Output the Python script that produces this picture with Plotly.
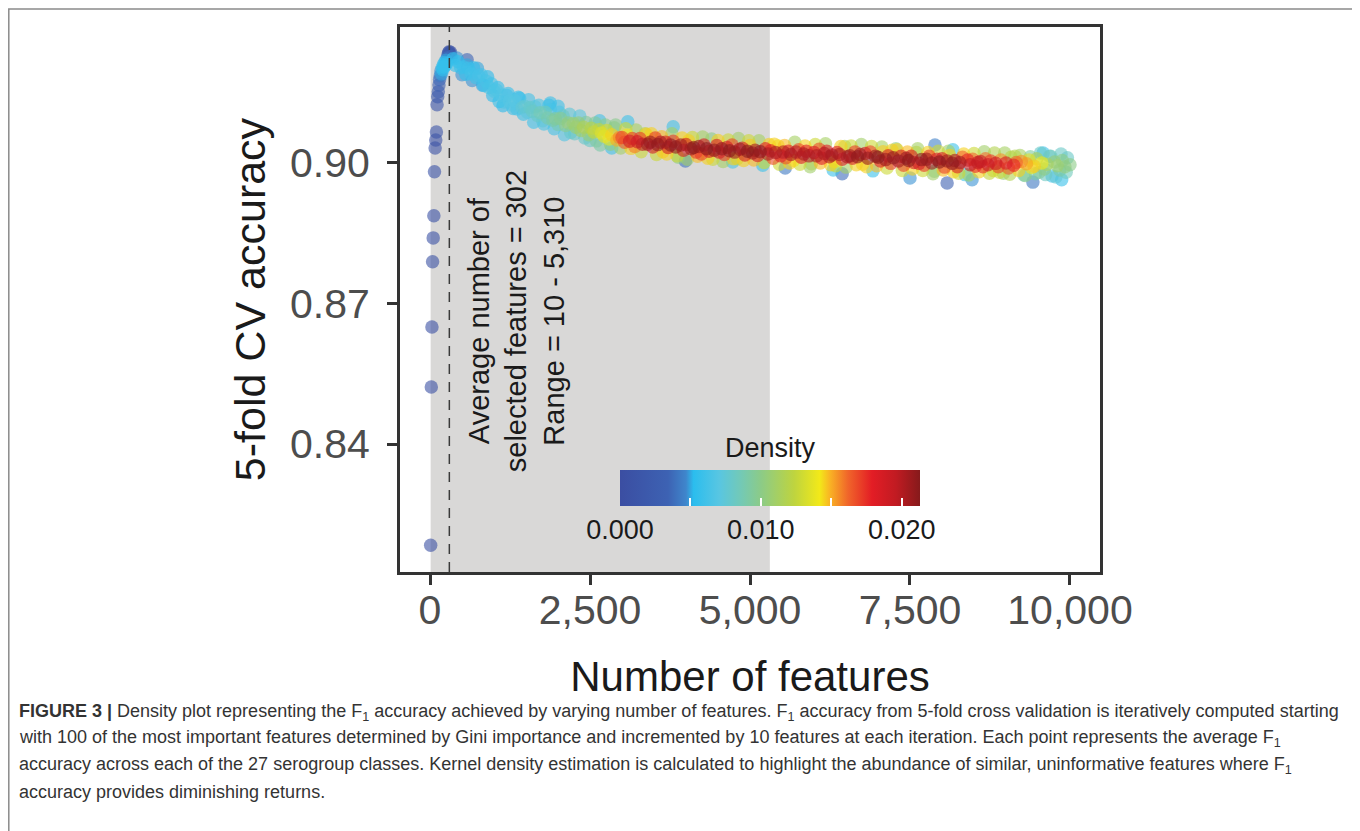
import plotly.graph_objects as go

# ---------------- data ----------------
# steep start: number of features 10..330
x_early = [10, 20, 30, 40, 50, 60, 70, 80, 90, 100, 110, 120, 130, 140, 150, 160, 170,
           180, 190, 200, 210, 220, 230, 240, 250, 260, 270, 280, 290, 300, 310, 320, 330]
acc_early = [0.8184, 0.8522, 0.8650, 0.8789, 0.8840, 0.8887, 0.8981, 0.9032, 0.9049, 0.9066,
             0.9124, 0.9141, 0.9152, 0.9166, 0.9178, 0.9186, 0.9196, 0.9190, 0.9203, 0.9199,
             0.9210, 0.9205, 0.9214, 0.9208, 0.9219, 0.9212, 0.9224, 0.9230, 0.9235, 0.9237,
             0.9233, 0.9236, 0.9226]
dens_early = [0.0003, 0.0004, 0.0004, 0.0005, 0.0006, 0.0006, 0.0008, 0.0010, 0.0011, 0.0012,
              0.0016, 0.0020, 0.0024, 0.0030, 0.0036, 0.0042, 0.0048, 0.0050, 0.0054, 0.0056,
              0.0055, 0.0057, 0.0054, 0.0056, 0.0050, 0.0055, 0.0040, 0.0025, 0.0012, 0.0008,
              0.0010, 0.0009, 0.0030]

# decline: 360..2960
x_decline = [360, 400, 440, 480, 520, 560, 600, 640, 680, 720, 760, 800, 840, 880, 920, 960,
             1000, 1040, 1080, 1120, 1160, 1200, 1240, 1280, 1320, 1360, 1400, 1440, 1480,
             1520, 1560, 1600, 1640, 1680, 1720, 1760, 1800, 1840, 1880, 1920, 1960, 2000,
             2040, 2080, 2120, 2160, 2200, 2240, 2280, 2320, 2360, 2400, 2440, 2480, 2520,
             2560, 2600, 2640, 2680, 2720, 2760, 2800, 2840, 2880, 2920, 2960]
acc_decline = [0.9222, 0.9208, 0.9216, 0.9203, 0.9205, 0.9189, 0.9202, 0.9190, 0.9203, 0.9182,
               0.9186, 0.9188, 0.9165, 0.9174, 0.9161, 0.9169, 0.9153, 0.9155, 0.9131, 0.9144,
               0.9130, 0.9144, 0.9132, 0.9124, 0.9133, 0.9115, 0.9138, 0.9118, 0.9121, 0.9108,
               0.9118, 0.9110, 0.9120, 0.9101, 0.9107, 0.9090, 0.9108, 0.9096, 0.9114, 0.9091,
               0.9094, 0.9082, 0.9095, 0.9100, 0.9080, 0.9085, 0.9065, 0.9084, 0.9076, 0.9085,
               0.9069, 0.9076, 0.9086, 0.9060, 0.9074, 0.9066, 0.9047, 0.9071, 0.9064, 0.9057,
               0.9069, 0.9051, 0.9060, 0.9075, 0.9049, 0.9054]
dens_decline = [0.0056, 0.0057, 0.0054, 0.0059, 0.0059, 0.0055, 0.0059, 0.0061, 0.0054, 0.0060,
                0.0063, 0.0061, 0.0055, 0.0064, 0.0064, 0.0060, 0.0066, 0.0066, 0.0056, 0.0068,
                0.0066, 0.0062, 0.0070, 0.0069, 0.0070, 0.0064, 0.0058, 0.0075, 0.0076, 0.0072,
                0.0078, 0.0080, 0.0072, 0.0080, 0.0086, 0.0074, 0.0084, 0.0089, 0.0064, 0.0091,
                0.0094, 0.0088, 0.0096, 0.0082, 0.0098, 0.0103, 0.0078, 0.0106, 0.0108, 0.0104,
                0.0110, 0.0116, 0.0094, 0.0106, 0.0120, 0.0126, 0.0092, 0.0126, 0.0134, 0.0136,
                0.0130, 0.0138, 0.0145, 0.0100, 0.0150, 0.0157]

# plateau: 3000..8560
x_plateau = [3000, 3040, 3080, 3120, 3160, 3200, 3240, 3280, 3320, 3360,
             3400, 3440, 3480, 3520, 3560, 3600, 3640, 3680, 3720, 3760,
             3800, 3840, 3880, 3920, 3960, 4000, 4040, 4080, 4120, 4160,
             4200, 4240, 4280, 4320, 4360, 4400, 4440, 4480, 4520, 4560,
             4600, 4640, 4680, 4720, 4760, 4800, 4840, 4880, 4920, 4960,
             5000, 5040, 5080, 5120, 5160, 5200, 5240, 5280, 5320, 5360,
             5400, 5440, 5480, 5520, 5560, 5600, 5640, 5680, 5720, 5760,
             5800, 5840, 5880, 5920, 5960, 6000, 6040, 6080, 6120, 6160,
             6200, 6240, 6280, 6320, 6360, 6400, 6440, 6480, 6520, 6560,
             6600, 6640, 6680, 6720, 6760, 6800, 6840, 6880, 6920, 6960,
             7000, 7040, 7080, 7120, 7160, 7200, 7240, 7280, 7320, 7360,
             7400, 7440, 7480, 7520, 7560, 7600, 7640, 7680, 7720, 7760,
             7800, 7840, 7880, 7920, 7960, 8000, 8040, 8080, 8120, 8160,
             8200, 8240, 8280, 8320, 8360, 8400, 8440, 8480, 8520, 8560]
acc_plateau = [0.9054, 0.9044, 0.9059, 0.9046, 0.9052, 0.9035, 0.9045, 0.9052, 0.9040, 0.9062,
               0.9040, 0.9044, 0.9034, 0.9053, 0.9039, 0.9044, 0.9024, 0.9044, 0.9033, 0.9038,
               0.9046, 0.9034, 0.9012, 0.9038, 0.9027, 0.9039, 0.9047, 0.9030, 0.9033, 0.9023,
               0.9035, 0.9019, 0.9038, 0.9030, 0.9025, 0.9051, 0.9027, 0.9037, 0.9023, 0.9030,
               0.9018, 0.9033, 0.9026, 0.9038, 0.9023, 0.9009, 0.9029, 0.9031, 0.9017, 0.9025,
               0.9037, 0.9021, 0.9027, 0.9016, 0.9024, 0.8995, 0.9030, 0.9019, 0.9026, 0.9010,
               0.9022, 0.9036, 0.9015, 0.9023, 0.9011, 0.9025, 0.9018, 0.9005, 0.9023, 0.9028,
               0.9012, 0.9019, 0.9025, 0.9015, 0.8998, 0.9022, 0.9015, 0.9029, 0.9010, 0.9020,
               0.9025, 0.9013, 0.9017, 0.9003, 0.9022, 0.9018, 0.9008, 0.9035, 0.9013, 0.9015,
               0.9010, 0.9023, 0.9013, 0.9018, 0.8997, 0.9020, 0.9010, 0.9023, 0.8983, 0.9014,
               0.9012, 0.9004, 0.9024, 0.9007, 0.9015, 0.8999, 0.9011, 0.9030, 0.9004, 0.9014,
               0.8995, 0.9010, 0.9005, 0.9014, 0.9001, 0.9022, 0.8999, 0.9007, 0.8995, 0.9008,
               0.9014, 0.9000, 0.8982, 0.9008, 0.9002, 0.9009, 0.8991, 0.9004, 0.9016, 0.8999,
               0.9005, 0.8992, 0.9001, 0.9012, 0.8975, 0.9006, 0.8996, 0.9008, 0.8993, 0.9001]
dens_plateau = [0.0170, 0.0165, 0.0142, 0.0190, 0.0172, 0.0158, 0.0190, 0.0172, 0.0198, 0.0120,
                0.0205, 0.0208, 0.0187, 0.0172, 0.0210, 0.0204, 0.0146, 0.0188, 0.0189, 0.0211,
                0.0172, 0.0209, 0.0100, 0.0206, 0.0186, 0.0188, 0.0145, 0.0207, 0.0212, 0.0172,
                0.0204, 0.0170, 0.0186, 0.0213, 0.0188, 0.0100, 0.0210, 0.0185, 0.0187, 0.0211,
                0.0172, 0.0188, 0.0212, 0.0170, 0.0205, 0.0120, 0.0207, 0.0186, 0.0185, 0.0213,
                0.0146, 0.0207, 0.0204, 0.0186, 0.0211, 0.0060, 0.0182, 0.0203, 0.0183, 0.0168,
                0.0202, 0.0142, 0.0183, 0.0200, 0.0168, 0.0182, 0.0204, 0.0142, 0.0198, 0.0168,
                0.0182, 0.0203, 0.0181, 0.0200, 0.0115, 0.0183, 0.0202, 0.0168, 0.0182, 0.0201,
                0.0182, 0.0200, 0.0204, 0.0142, 0.0182, 0.0203, 0.0181, 0.0115, 0.0201, 0.0206,
                0.0187, 0.0172, 0.0210, 0.0205, 0.0145, 0.0186, 0.0209, 0.0170, 0.0058, 0.0208,
                0.0212, 0.0187, 0.0146, 0.0207, 0.0188, 0.0172, 0.0210, 0.0100, 0.0205, 0.0186,
                0.0170, 0.0208, 0.0212, 0.0186, 0.0188, 0.0120, 0.0187, 0.0211, 0.0172, 0.0206,
                0.0172, 0.0208, 0.0100, 0.0187, 0.0213, 0.0186, 0.0170, 0.0207, 0.0145, 0.0210,
                0.0203, 0.0184, 0.0205, 0.0162, 0.0060, 0.0178, 0.0196, 0.0162, 0.0177, 0.0195]

# tail: 8600..10000
x_tail = [8600, 8640, 8680, 8720, 8760, 8800, 8840, 8880, 8920, 8960, 9000, 9040,
          9080, 9120, 9160, 9200, 9240, 9280, 9320, 9360, 9400, 9440, 9480, 9520,
          9560, 9600, 9640, 9680, 9720, 9760, 9800, 9840, 9880, 9920, 9960, 10000]
acc_tail = [0.9003, 0.8992, 0.9009, 0.8996, 0.9004, 0.8984, 0.8999, 0.8992, 0.9006, 0.8978,
            0.9000, 0.8989, 0.9012, 0.8995, 0.9001, 0.8984, 0.9003, 0.8974, 0.8998, 0.9006,
            0.8990, 0.8993, 0.9009, 0.8980, 0.9000, 0.8987, 0.8997, 0.9014, 0.8972, 0.9002,
            0.8994, 0.8985, 0.9005, 0.8992, 0.9011, 0.8996]
dens_tail = [0.0193, 0.0176, 0.0160, 0.0192, 0.0172, 0.0130, 0.0190, 0.0170, 0.0155, 0.0105,
             0.0185, 0.0165, 0.0120, 0.0178, 0.0162, 0.0145, 0.0155, 0.0080, 0.0152, 0.0135,
             0.0142, 0.0146, 0.0115, 0.0095, 0.0140, 0.0100, 0.0112, 0.0075, 0.0062, 0.0104,
             0.0108, 0.0090, 0.0100, 0.0102, 0.0080, 0.0100]

# points on the fuzzy edges of the band
x_edge = [420, 500, 580, 660, 740, 820, 900, 980, 1060, 1140, 1220, 1300, 1380, 1460,
          1540, 1620, 1700, 1780, 1860, 1940, 2020, 2100, 2180, 2260, 2340, 2420,
          2500, 2580, 2660, 2740, 2820, 2900, 2980, 3060, 3140, 3220, 3300, 3380,
          3460, 3540, 3620, 3700, 3780, 3860, 3940, 4020, 4100, 4180, 4260, 4340,
          4420, 4500, 4580, 4660, 4740, 4820, 4900, 4980, 5060, 5140, 5220, 5300,
          5380, 5460, 5540, 5620, 5700, 5780, 5860, 5940, 6020, 6100, 6180, 6260,
          6340, 6420, 6500, 6580, 6660, 6740, 6820, 6900, 6980, 7060, 7140, 7220,
          7300, 7380, 7460, 7540, 7620, 7700, 7780, 7860, 7940, 8020, 8100, 8180,
          8260, 8340, 8420, 8500, 8580, 8660, 8740, 8820, 8900, 8980, 9060, 9140,
          9220, 9300, 9380, 9460, 9540, 9620, 9700, 9780, 9860, 9940]
acc_edge = [0.9224, 0.9188, 0.9209, 0.9176, 0.9202, 0.9166, 0.9184, 0.9144, 0.9161, 0.9122,
            0.9148, 0.9116, 0.9140, 0.9104,
            0.9135, 0.9087, 0.9123, 0.9083, 0.9123, 0.9073, 0.9108, 0.9060, 0.9104, 0.9062,
            0.9100, 0.9053,
            0.9048, 0.9085, 0.9038, 0.9081, 0.9040, 0.9081, 0.9032, 0.9073, 0.9031, 0.9070,
            0.9024, 0.9061,
            0.9062, 0.9018, 0.9056, 0.9019, 0.9062, 0.9015, 0.9053, 0.9008, 0.9054, 0.9014,
            0.9055, 0.9010,
            0.9008, 0.9048, 0.9003, 0.9049, 0.9009, 0.9052, 0.9005, 0.9047, 0.9006, 0.9047,
            0.9001, 0.9039,
            0.9040, 0.8997, 0.9037, 0.9000, 0.9044, 0.8997, 0.9036, 0.8992, 0.9039, 0.9000,
            0.9041, 0.8996,
            0.8994, 0.9035, 0.8991, 0.9036, 0.8996, 0.9039, 0.8992, 0.9035, 0.8994, 0.9034,
            0.8989, 0.9027,
            0.9028, 0.8984, 0.9023, 0.8987, 0.9030, 0.8984, 0.9022, 0.8977, 0.9025, 0.8985,
            0.9025, 0.8981,
            0.8978, 0.9019, 0.8974, 0.9020, 0.8981, 0.9024, 0.8978, 0.9021, 0.8980, 0.9021,
            0.8976, 0.9014,
            0.9016, 0.8973, 0.9013, 0.8977, 0.9021, 0.8975, 0.9014, 0.8970, 0.9019, 0.8980]
dens_edge = [0.0048, 0.0048, 0.0050, 0.0048, 0.0050, 0.0050, 0.0052, 0.0052, 0.0054, 0.0052,
             0.0056, 0.0058, 0.0056, 0.0058,
             0.0062, 0.0060, 0.0064, 0.0064, 0.0058, 0.0062, 0.0068, 0.0068, 0.0074, 0.0078,
             0.0072, 0.0078,
             0.0080, 0.0094, 0.0090, 0.0098, 0.0104, 0.0098, 0.0110, 0.0128, 0.0145, 0.0112,
             0.0128, 0.0145,
             0.0145, 0.0128, 0.0148, 0.0145, 0.0112, 0.0128, 0.0145, 0.0110, 0.0128, 0.0148,
             0.0112, 0.0145,
             0.0128, 0.0145, 0.0112, 0.0128, 0.0145, 0.0110, 0.0145, 0.0128, 0.0148, 0.0112,
             0.0128, 0.0145,
             0.0145, 0.0128, 0.0148, 0.0145, 0.0112, 0.0128, 0.0145, 0.0110, 0.0128, 0.0148,
             0.0112, 0.0145,
             0.0128, 0.0145, 0.0112, 0.0128, 0.0145, 0.0110, 0.0145, 0.0128, 0.0148, 0.0112,
             0.0128, 0.0145,
             0.0145, 0.0128, 0.0148, 0.0145, 0.0112, 0.0128, 0.0145, 0.0110, 0.0128, 0.0148,
             0.0112, 0.0145,
             0.0128, 0.0145, 0.0112, 0.0128, 0.0145, 0.0110, 0.0125, 0.0118, 0.0128, 0.0112,
             0.0118, 0.0120,
             0.0112, 0.0100, 0.0092, 0.0088, 0.0080, 0.0082, 0.0085, 0.0075, 0.0080, 0.0084]

# isolated points away from the main band
x_out = [580, 1880, 2000, 2650, 2840, 3090, 3800, 3990, 4730, 5550, 6300, 6440,
         7500, 7890, 8080, 8170, 8470, 9420, 9580, 9870]
acc_out = [0.9220, 0.9128, 0.9121, 0.9090, 0.9032, 0.9088, 0.9077, 0.9004, 0.9002, 0.8989,
           0.8985, 0.8977, 0.8968, 0.9038, 0.8957, 0.9028, 0.8964, 0.8959, 0.9021, 0.8964]
dens_out = [0.0035, 0.0058, 0.0060, 0.0062, 0.0060, 0.0060, 0.0062, 0.0040, 0.0065, 0.0042,
            0.0058, 0.0038, 0.0048, 0.0045, 0.0030, 0.0060, 0.0048, 0.0042, 0.0058, 0.0058]

avg_selected = 302
range_selected = (10, 5310)

x_ticks = [0, 2500, 5000, 7500, 10000]
x_tick_labels = ["0", "2,500", "5,000", "7,500", "10,000"]
y_ticks = [0.84, 0.87, 0.90]
y_tick_labels = ["0.84", "0.87", "0.90"]
dens_ticks = [0.0, 0.005, 0.010, 0.015, 0.020]
dens_tick_labels = ["0.000", "", "0.010", "", "0.020"]
dens_max = 0.0213

# ---------------- figure ----------------
# the page body has an 8px margin, so the figure is 8px smaller on each side
W, H = 1352, 823
FONT = "Liberation Sans, Arial, Helvetica, sans-serif"

xs = x_early + x_decline + x_plateau + x_tail + x_edge + x_out
ys = acc_early + acc_decline + acc_plateau + acc_tail + acc_edge + acc_out
ds = dens_early + dens_decline + dens_plateau + dens_tail + dens_edge + dens_out
order = sorted(range(len(xs)), key=lambda i: ds[i])  # densest drawn on top

colorscale = [
    [0.000, "#3b4ea2"],
    [0.160, "#3d62b3"],
    [0.220, "#3f86cc"],
    [0.245, "#2bbdee"],
    [0.330, "#58c6e2"],
    [0.400, "#72c9b8"],
    [0.470, "#8ccb87"],
    [0.580, "#bed43f"],
    [0.665, "#f2e919"],
    [0.700, "#f9b324"],
    [0.760, "#f0652a"],
    [0.840, "#e31d25"],
    [0.920, "#c11b22"],
    [1.000, "#861a1b"],
]

fig = go.Figure()
fig.add_trace(go.Scatter(
    x=[xs[i] for i in order],
    y=[ys[i] for i in order],
    mode="markers",
    hoverinfo="skip",
    showlegend=False,
    marker=dict(
        size=13.5,
        color=[ds[i] for i in order],
        colorscale=colorscale,
        cmin=0, cmax=dens_max,
        opacity=0.6,
        line=dict(width=0),
        colorbar=dict(
            orientation="h",
            x=762 / W, xanchor="center",
            y=(H - 462) / H, yanchor="top",
            len=300, lenmode="pixels",
            thickness=36, thicknessmode="pixels",
            xpad=0, ypad=0,
            outlinewidth=0,
            tickvals=dens_ticks, ticktext=dens_tick_labels,
            ticks="inside", ticklen=8, tickwidth=1.5, tickcolor="white",
            tickfont=dict(family=FONT, size=27, color="#1a1a1a"),
        ),
    ),
))

fig.add_annotation(x=762 / W, y=(H - 440) / H, xref="paper", yref="paper",
                   text="Density", showarrow=False, xanchor="center", yanchor="middle",
                   font=dict(family=FONT, size=27, color="#1a1a1a"))

# shaded range of selected features
fig.add_shape(type="rect", xref="x", yref="y domain",
              x0=range_selected[0], x1=range_selected[1], y0=0, y1=1,
              fillcolor="#d9d8d7", line=dict(width=0), layer="below")
# average selected features
fig.add_shape(type="line", xref="x", yref="y domain",
              x0=avg_selected, x1=avg_selected, y0=0, y1=1,
              line=dict(color="#3a3a3a", width=1.5, dash="10px,8px"), layer="above")
# outer figure frame
fig.add_shape(type="rect", xref="paper", yref="paper",
              x0=0.8 / W, x1=1347 / W, y0=-0.05, y1=(H - 1) / H,
              line=dict(color="#8a8a8a", width=1.5), fillcolor="rgba(0,0,0,0)", layer="above")

fig.add_annotation(
    x=1350, y=0.8663, xref="x", yref="y",
    text="Average number of<br>selected features = %d<br>Range = %d - %s"
         % (avg_selected, range_selected[0], f"{range_selected[1]:,}"),
    textangle=-90, showarrow=False, align="center",
    xanchor="center", yanchor="middle",
    font=dict(family=FONT, size=29, color="#1a1a1a"),
)

caption_lines = [
    "<b>FIGURE 3 |</b> Density plot representing the F<sub>1</sub> accuracy achieved by varying number of features. "
    "F<sub>1</sub> accuracy from 5-fold cross validation is iteratively computed starting",
    "with 100 of the most important features determined by Gini importance and incremented by 10 features at each "
    "iteration. Each point represents the average F<sub>1</sub>",
    "accuracy across each of the 27 serogroup classes. Kernel density estimation is calculated to highlight the "
    "abundance of similar, uninformative features where F<sub>1</sub>",
    "accuracy provides diminishing returns.",
]
for k, line in enumerate(caption_lines):
    fig.add_annotation(
        x=9 / W, y=(H - (704 + 26.7 * k)) / H, xref="paper", yref="paper",
        xanchor="left", yanchor="middle", showarrow=False, align="left",
        text=line, font=dict(family=FONT, size=18, color="#333333"),
    )

axis_common = dict(
    showline=True, linecolor="#333333", linewidth=3, mirror=True,
    showgrid=False, zeroline=False,
    ticks="outside", ticklen=10, tickwidth=3, tickcolor="#333333",
    tickfont=dict(family=FONT, size=41, color="#4d4d4d"),
    automargin=False,
)

fig.update_layout(
    width=W, height=H,
    margin=dict(l=0, r=0, t=0, b=0),
    paper_bgcolor="white", plot_bgcolor="white",
    font=dict(family=FONT),
    xaxis=dict(
        axis_common,
        domain=[392 / W, 1092 / W],
        range=[-469, 10469],
        tickvals=x_ticks, ticktext=x_tick_labels,
        ticklabelstandoff=-10,
        title=dict(text="Number of features", standoff=30,
                   font=dict(family=FONT, size=42, color="#1a1a1a")),
    ),
    yaxis=dict(
        axis_common,
        domain=[(H - 564) / H, (H - 19) / H],
        range=[0.8127, 0.9290],
        tickvals=y_ticks, ticktext=y_tick_labels,
        ticklabelstandoff=9,
        title=dict(text="5-fold CV accuracy", standoff=11,
                   font=dict(family=FONT, size=43, color="#1a1a1a")),
    ),
)

fig.write_html("out.html")
